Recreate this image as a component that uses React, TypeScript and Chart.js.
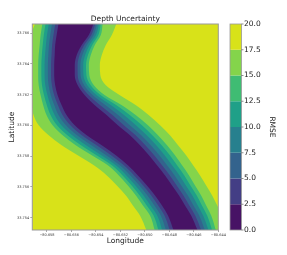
import React, { useEffect, useRef } from 'react';
import { Chart, registerables } from 'chart.js';

Chart.register(...registerables);

const FONT = 'DejaVu Sans';

// Latitude rows (top to bottom) at which the contour boundaries were read
const latRows = [33.7667, 33.76588, 33.76523, 33.76458, 33.76393, 33.76327, 33.76262, 33.76197, 33.76132, 33.76067, 33.76001, 33.75936, 33.75871, 33.75806, 33.75741, 33.75675, 33.7561, 33.75545, 33.7548, 33.75415, 33.7531];

// Longitude of each contour level boundary, west side of the channel
const west17_5 = [-80.65893, -80.65934, -80.65958, -80.65975, -80.65983, -80.65983, -80.65975, -80.65958, -80.65926, -80.65909, -80.65868, -80.65786, -80.6568, -80.65549, -80.65417, -80.65311, -80.65229, -80.65155, -80.65098, -80.6504, -80.64983];
const west15 = [-80.65836, -80.65852, -80.6586, -80.65868, -80.65872, -80.65872, -80.65868, -80.65852, -80.65831, -80.65803, -80.65754, -80.65672, -80.65565, -80.65434, -80.65303, -80.65213, -80.65139, -80.65073, -80.65016, -80.64958, -80.64917];
const west12_5 = [-80.6581, -80.65826, -80.65835, -80.65842, -80.65846, -80.65846, -80.65841, -80.65824, -80.65801, -80.6577, -80.65718, -80.65633, -80.65522, -80.65395, -80.6527, -80.65182, -80.65108, -80.65042, -80.64985, -80.64929, -80.64886];
const west10 = [-80.65783, -80.658, -80.65809, -80.65816, -80.6582, -80.6582, -80.65814, -80.65796, -80.65771, -80.65737, -80.65682, -80.65593, -80.6548, -80.65355, -80.65237, -80.65151, -80.65077, -80.65011, -80.64954, -80.64899, -80.64855];
const west7_5 = [-80.65757, -80.65773, -80.65784, -80.65789, -80.65793, -80.65793, -80.65787, -80.65769, -80.6574, -80.65705, -80.65645, -80.65554, -80.65437, -80.65316, -80.65205, -80.65119, -80.65045, -80.64979, -80.64922, -80.6487, -80.64824];
const west5 = [-80.6573, -80.65747, -80.65758, -80.65763, -80.65767, -80.65767, -80.6576, -80.65741, -80.6571, -80.65672, -80.65609, -80.65515, -80.65394, -80.65276, -80.65172, -80.65088, -80.65014, -80.64948, -80.64891, -80.6484, -80.64793];
const west2_5 = [-80.65704, -80.65721, -80.65733, -80.65737, -80.65741, -80.65741, -80.65733, -80.65713, -80.6568, -80.65639, -80.65573, -80.65475, -80.65352, -80.65237, -80.65139, -80.65057, -80.64983, -80.64917, -80.6486, -80.64811, -80.64762];

// Longitude of each contour level boundary, east side of the channel
const east2_5 = [-80.65417, -80.65458, -80.65516, -80.65557, -80.65573, -80.65573, -80.65549, -80.65491, -80.65409, -80.65311, -80.65221, -80.65122, -80.6504, -80.64967, -80.64901, -80.64835, -80.64778, -80.64721, -80.64672, -80.64622, -80.64565];
const east5 = [-80.65402, -80.65438, -80.65495, -80.65534, -80.6555, -80.65549, -80.65523, -80.65458, -80.65365, -80.65263, -80.65172, -80.65076, -80.64996, -80.64924, -80.6486, -80.64796, -80.6474, -80.64685, -80.64637, -80.64589, -80.64535];
const east7_5 = [-80.65388, -80.65419, -80.65473, -80.65511, -80.65527, -80.65525, -80.65496, -80.65425, -80.65321, -80.65216, -80.65123, -80.6503, -80.64952, -80.64882, -80.64819, -80.64757, -80.64703, -80.64649, -80.64603, -80.64556, -80.64506];
const east10 = [-80.65373, -80.65399, -80.65452, -80.65488, -80.65504, -80.65502, -80.6547, -80.65393, -80.65276, -80.65168, -80.65073, -80.64985, -80.64907, -80.64839, -80.64778, -80.64717, -80.64665, -80.64612, -80.64568, -80.64524, -80.64476];
const east12_5 = [-80.65359, -80.6538, -80.6543, -80.65465, -80.65481, -80.65478, -80.65443, -80.6536, -80.65232, -80.65121, -80.65024, -80.64939, -80.64863, -80.64796, -80.64737, -80.64678, -80.64628, -80.64576, -80.64534, -80.64491, -80.64447];
const east15 = [-80.65344, -80.6536, -80.65409, -80.65442, -80.65458, -80.65454, -80.65417, -80.65327, -80.65188, -80.65073, -80.64975, -80.64893, -80.64819, -80.64754, -80.64696, -80.64639, -80.6459, -80.6454, -80.64499, -80.64458, -80.64417];
const east17_5 = [-80.65229, -80.6527, -80.65319, -80.65352, -80.65368, -80.65364, -80.65319, -80.65204, -80.65073, -80.64967, -80.64876, -80.64795, -80.64729, -80.64663, -80.64606, -80.64549, -80.64499, -80.6445, -80.64409, -80.64368, -80.64319];

const xTicks = [-80.658, -80.656, -80.654, -80.652, -80.65, -80.648, -80.646, -80.644];
const yTicks = [33.754, 33.756, 33.758, 33.76, 33.762, 33.764, 33.766];
const levels = [0, 2.5, 5, 7.5, 10, 12.5, 15, 17.5, 20];
const levelLabels = ['0.0', '2.5', '5.0', '7.5', '10.0', '12.5', '15.0', '17.5', '20.0'];
const bandColors = ['#471365', '#433e85', '#33638d', '#27808e', '#1fa088', '#3fbc73', '#84d44b', '#d8e219'];

const westBounds = [west2_5, west5, west7_5, west10, west12_5, west15, west17_5];
const eastBounds = [east2_5, east5, east7_5, east10, east12_5, east15, east17_5];

export default function App() {
  const ref = useRef<HTMLCanvasElement>(null);

  useEffect(() => {
    if (!ref.current) return;
    Chart.defaults.font.family = FONT;

    const datasets: any[] = [];
    for (let i = 0; i < westBounds.length; i++) {
      datasets.push({
        data: latRows.map((y, j) => ({ x: westBounds[i][j], y })),
        fill: '+1',
        backgroundColor: bandColors[i],
        borderColor: 'rgba(0,0,0,0)',
        borderWidth: 0,
        pointRadius: 0,
        cubicInterpolationMode: 'monotone',
      });
      datasets.push({
        data: latRows.map((y, j) => ({ x: eastBounds[i][j], y })),
        fill: false,
        backgroundColor: bandColors[i],
        borderColor: 'rgba(0,0,0,0)',
        borderWidth: 0,
        pointRadius: 0,
        cubicInterpolationMode: 'monotone',
      });
    }

    const background = {
      id: 'plotBackground',
      beforeDatasetsDraw(chart: any) {
        const { ctx, chartArea: a } = chart;
        ctx.save();
        ctx.fillStyle = bandColors[bandColors.length - 1];
        ctx.fillRect(a.left, a.top, a.right - a.left, a.bottom - a.top);
        ctx.restore();
      },
    };

    const decorations = {
      id: 'decorations',
      afterDraw(chart: any) {
        const { ctx, chartArea: a } = chart;
        ctx.save();
        // frame
        ctx.strokeStyle = '#999';
        ctx.lineWidth = 1;
        ctx.strokeRect(a.left, a.top, a.right - a.left, a.bottom - a.top);
        // title
        ctx.fillStyle = '#222';
        ctx.font = `7.5px "${FONT}"`;
        ctx.textAlign = 'center';
        ctx.textBaseline = 'middle';
        ctx.fillText('Depth Uncertainty', (a.left + a.right) / 2, 19);
        // colorbar
        const cbL = 230;
        const cbR = 241.5;
        const vmin = levels[0];
        const vmax = levels[levels.length - 1];
        const yOf = (v: number) => a.bottom - ((v - vmin) / (vmax - vmin)) * (a.bottom - a.top);
        for (let i = 0; i < bandColors.length; i++) {
          const y0 = yOf(levels[i]);
          const y1 = yOf(levels[i + 1]);
          ctx.fillStyle = bandColors[i];
          ctx.fillRect(cbL, y1, cbR - cbL, y0 - y1);
        }
        ctx.strokeStyle = '#999';
        ctx.lineWidth = 0.8;
        ctx.strokeRect(cbL, a.top, cbR - cbL, a.bottom - a.top);
        ctx.strokeStyle = '#444';
        ctx.lineWidth = 0.6;
        ctx.fillStyle = '#222';
        ctx.textAlign = 'left';
        ctx.textBaseline = 'middle';
        for (let i = 0; i < levels.length; i++) {
          const y = yOf(levels[i]);
          ctx.beginPath();
          ctx.moveTo(cbR, y);
          ctx.lineTo(cbR + 2, y);
          ctx.stroke();
          ctx.fillText(levelLabels[i], cbR + 2.5, y);
        }
        // colorbar label
        ctx.save();
        ctx.translate(271.7, (a.top + a.bottom) / 2);
        ctx.rotate(Math.PI / 2);
        ctx.textAlign = 'center';
        ctx.textBaseline = 'middle';
        ctx.fillText('RMSE', 0, 0);
        ctx.restore();
        ctx.restore();
      },
    };

    const chart = new Chart(ref.current, {
      type: 'line',
      data: { datasets },
      options: {
        indexAxis: 'y',
        responsive: false,
        animation: false,
        devicePixelRatio: 1,
        events: [],
        layout: { padding: { top: 24, right: 68.7, left: 0, bottom: 0 } },
        plugins: {
          legend: { display: false },
          tooltip: { enabled: false },
          title: { display: false },
          filler: { propagate: false },
        },
        scales: {
          x: {
            type: 'linear',
            position: 'bottom',
            min: -80.6592,
            max: -80.644,
            afterBuildTicks: (s: any) => {
              s.ticks = xTicks.map((v) => ({ value: v }));
            },
            afterFit: (s: any) => {
              s.height = 25;
            },
            ticks: {
              callback: (v: any) => '\u2212' + Math.abs(Number(v)).toFixed(3),
              font: { size: 3.5, family: FONT },
              color: '#333',
              padding: 1,
              maxRotation: 0,
              minRotation: 0,
              autoSkip: false,
            },
            grid: { drawOnChartArea: false, drawTicks: true, tickLength: 2, color: '#555', lineWidth: 0.5 },
            border: { display: false },
            title: {
              display: true,
              text: 'Longitude',
              font: { size: 7.5, family: FONT },
              color: '#222',
              padding: { top: 0, bottom: 9.8 },
            },
          },
          y: {
            type: 'linear',
            position: 'left',
            min: 33.7532,
            max: 33.7666,
            afterBuildTicks: (s: any) => {
              s.ticks = yTicks.map((v) => ({ value: v }));
            },
            afterFit: (s: any) => {
              s.width = 32.3;
            },
            ticks: {
              callback: (v: any) => Number(v).toFixed(3),
              font: { size: 3.5, family: FONT },
              color: '#333',
              padding: 1,
              autoSkip: false,
            },
            grid: { drawOnChartArea: false, drawTicks: true, tickLength: 2, color: '#555', lineWidth: 0.5 },
            border: { display: false },
            title: {
              display: true,
              text: 'Latitude',
              font: { size: 7.5, family: FONT },
              color: '#222',
              padding: { top: 7.2, bottom: 0 },
            },
          },
        },
      } as any,
      plugins: [background, decorations],
    });

    return () => chart.destroy();
  }, []);

  return (
    <div style={{ position: 'fixed', left: 0, top: 0, width: 287, height: 255, background: '#fff' }}>
      <canvas ref={ref} width={287} height={255} style={{ display: 'block', width: 287, height: 255 }} />
    </div>
  );
}
